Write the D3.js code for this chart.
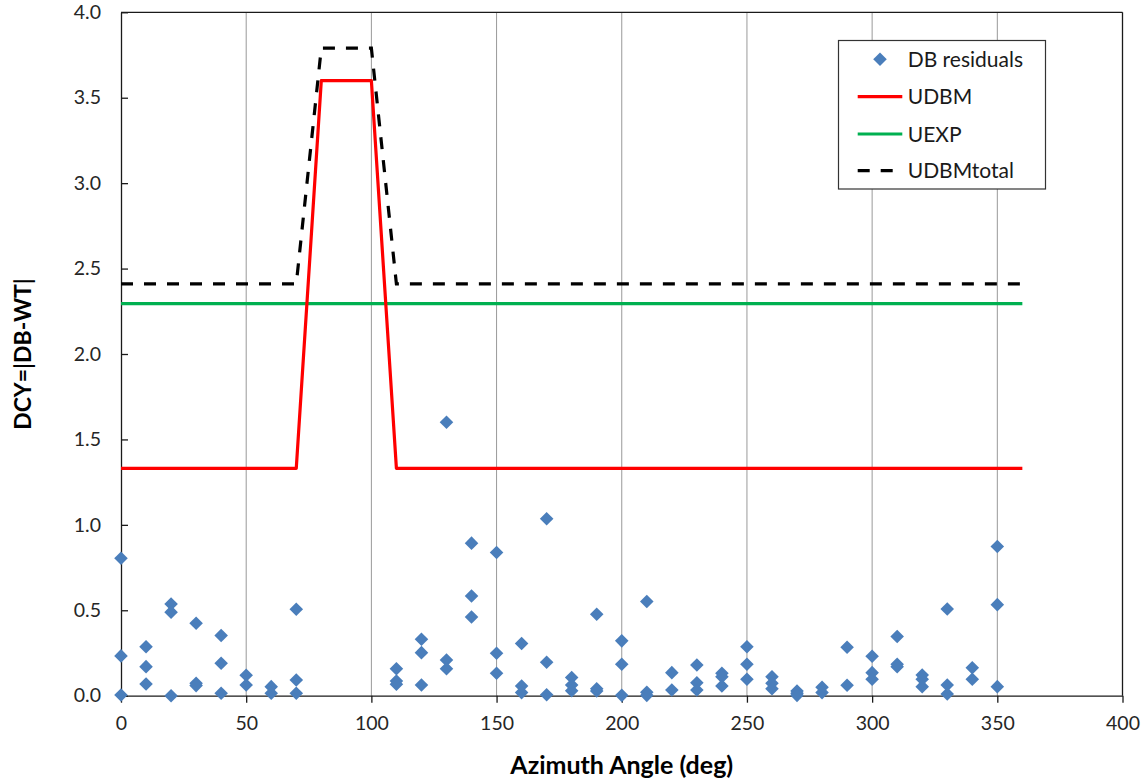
<!DOCTYPE html>
<html>
<head>
<meta charset="utf-8">
<script src="https://cdn.jsdelivr.net/npm/d3@7"></script>
<style>
  html, body { margin: 0; padding: 0; background: #fff; }
  svg { display: block; font-family: Lato, "Open Sans", sans-serif; }
</style>
</head>
<body>
<svg id="chart" width="1146" height="784"></svg>
<script>
// ---- Data ----
const xTicks = [0, 50, 100, 150, 200, 250, 300, 350, 400];
const yTicks = [0, 0.5, 1.0, 1.5, 2.0, 2.5, 3.0, 3.5, 4.0];

// DB residuals (azimuth, value)
const resAz = [
  0, 0, 0,
  10, 10, 10,
  20, 20, 20,
  30, 30, 30,
  40, 40, 40,
  50, 50,
  60, 60,
  70, 70, 70,
  110, 110, 110,
  120, 120, 120,
  130, 130, 130,
  140, 140, 140,
  150, 150, 150,
  160, 160, 160,
  170, 170, 170,
  180, 180, 180,
  190, 190, 190,
  200, 200, 200,
  210, 210, 210,
  220, 220,
  230, 230, 230,
  240, 240, 240,
  250, 250, 250,
  260, 260, 260,
  270, 270, 270,
  280, 280,
  290, 290,
  300, 300, 300,
  310, 310, 310,
  320, 320, 320,
  330, 330, 330,
  340, 340,
  350, 350, 350
];
const resVal = [
  0.805, 0.233, 0.004,
  0.287, 0.170, 0.069,
  0.537, 0.489, 0.000,
  0.424, 0.073, 0.059,
  0.352, 0.190, 0.014,
  0.120, 0.063,
  0.053, 0.014,
  0.506, 0.092, 0.014,
  0.158, 0.086, 0.067,
  0.330, 0.252, 0.063,
  1.600, 0.209, 0.158,
  0.893, 0.584, 0.461,
  0.838, 0.248, 0.131,
  0.305, 0.057, 0.018,
  1.036, 0.196, 0.006,
  0.106, 0.063, 0.029,
  0.477, 0.041, 0.028,
  0.321, 0.184, 0.002,
  0.551, 0.020, 0.002,
  0.135, 0.033,
  0.180, 0.076, 0.033,
  0.131, 0.111, 0.057,
  0.287, 0.184, 0.096,
  0.111, 0.073, 0.041,
  0.028, 0.014, 0.002,
  0.049, 0.018,
  0.284, 0.061,
  0.231, 0.135, 0.096,
  0.346, 0.184, 0.170,
  0.121, 0.096, 0.053,
  0.508, 0.063, 0.010,
  0.164, 0.096,
  0.873, 0.533, 0.053
];

const udbmAz  = [0, 70, 80, 100, 110, 360];
const udbmVal = [1.33, 1.33, 3.60, 3.60, 1.33, 1.33];
const uexpAz  = [0, 360];
const uexpVal = [2.295, 2.295];
const totAz   = [0, 70, 80, 100, 110, 360];
const totVal  = [2.41, 2.41, 3.79, 3.79, 2.41, 2.41];

const legendNames = ["DB residuals", "UDBM", "UEXP", "UDBMtotal"];

// ---- Layout ----
const svg = d3.select("#chart");
const L = 121, T = 12.3, R = 1122.5, B = 695.7;
const x = d3.scaleLinear().domain([0, 400]).range([L, R]);
const y = d3.scaleLinear().domain([0, 4]).range([B, T]);

const axisColor = "#1a1a1a";
const tickTextColor = "#262626";

// vertical gridlines
svg.append("g").selectAll("line")
  .data(xTicks.filter(d => d > 0 && d < 400))
  .join("line")
  .attr("x1", d => x(d)).attr("x2", d => x(d))
  .attr("y1", T).attr("y2", B)
  .attr("stroke", "#999").attr("stroke-width", 1);

// plot frame (top & right)
svg.append("line").attr("x1", L).attr("x2", R).attr("y1", T).attr("y2", T)
  .attr("stroke", axisColor).attr("stroke-width", 1.3);
svg.append("line").attr("x1", R).attr("x2", R).attr("y1", T).attr("y2", B)
  .attr("stroke", axisColor).attr("stroke-width", 1.3);

// x axis
const xAxis = d3.axisBottom(x).tickValues(xTicks).tickFormat(d3.format("d"))
  .tickSize(7).tickSizeOuter(0).tickPadding(13);
const gx = svg.append("g").attr("transform", `translate(0,${B})`).call(xAxis);
gx.select(".domain").attr("stroke", axisColor).attr("stroke-width", 1.3);
gx.selectAll(".tick line").attr("stroke", axisColor).attr("stroke-width", 1.3);
gx.selectAll(".tick text").attr("font-size", 19.5).attr("fill", tickTextColor)
  .attr("font-family", "Lato, sans-serif");

// y axis (ticks inside)
const yAxis = d3.axisLeft(y).tickValues(yTicks).tickFormat(d3.format(".1f"))
  .tickSize(-7).tickSizeOuter(0).tickPadding(20);
const gy = svg.append("g").attr("transform", `translate(${L},0)`).call(yAxis);
gy.select(".domain").attr("stroke", axisColor).attr("stroke-width", 1.3);
gy.selectAll(".tick line").attr("stroke", axisColor).attr("stroke-width", 1.3);
gy.selectAll(".tick text").attr("font-size", 19.5).attr("fill", tickTextColor)
  .attr("font-family", "Lato, sans-serif");

// axis titles
svg.append("text")
  .attr("x", (L + R) / 2).attr("y", 774)
  .attr("text-anchor", "middle")
  .attr("font-weight", "bold").attr("font-size", 25)
  .attr("fill", "#000")
  .text("Azimuth Angle (deg)");
svg.append("text")
  .attr("transform", `translate(31,${(T + B) / 2}) rotate(-90)`)
  .attr("text-anchor", "middle")
  .attr("font-weight", "bold").attr("font-size", 23)
  .attr("fill", "#000")
  .text("DCY=|DB-WT|");

// lines
const line = d3.line().x(d => x(d[0])).y(d => y(d[1]));
svg.append("path")
  .datum(uexpAz.map((a, i) => [a, uexpVal[i]]))
  .attr("d", line).attr("fill", "none")
  .attr("stroke", "#00B050").attr("stroke-width", 3.2);
svg.append("path")
  .datum(udbmAz.map((a, i) => [a, udbmVal[i]]))
  .attr("d", line).attr("fill", "none")
  .attr("stroke", "#FF0000").attr("stroke-width", 3.2)
  .attr("stroke-linejoin", "round");
svg.append("path")
  .datum(totAz.map((a, i) => [a, totVal[i]]))
  .attr("d", line).attr("fill", "none")
  .attr("stroke", "#000").attr("stroke-width", 3.2)
  .attr("stroke-dasharray", "12,11");

// diamonds
const diamond = d3.symbol().type(d3.symbolSquare).size(92);
svg.append("g").selectAll("path")
  .data(resAz.map((a, i) => [a, resVal[i]]))
  .join("path")
  .attr("d", diamond)
  .attr("transform", d => `translate(${x(d[0])},${y(d[1])}) rotate(45)`)
  .attr("fill", "#4A7EBB");

// legend
const lg = svg.append("g");
lg.append("rect").attr("x", 838.5).attr("y", 40.5).attr("width", 207).attr("height", 148.5)
  .attr("fill", "#fff").attr("stroke", "#333").attr("stroke-width", 1.2);
const rowY = [59.3, 96.7, 134, 170.7];
const sx1 = 857.7, sx2 = 902.3, tx = 907.7;
lg.append("path").attr("d", diamond)
  .attr("transform", `translate(${(sx1 + sx2) / 2},${rowY[0]}) rotate(45)`)
  .attr("fill", "#4A7EBB");
lg.append("line").attr("x1", sx1).attr("x2", sx2).attr("y1", rowY[1]).attr("y2", rowY[1])
  .attr("stroke", "#FF0000").attr("stroke-width", 3.2);
lg.append("line").attr("x1", sx1).attr("x2", sx2).attr("y1", rowY[2]).attr("y2", rowY[2])
  .attr("stroke", "#00B050").attr("stroke-width", 3.2);
lg.append("line").attr("x1", sx1).attr("x2", sx2).attr("y1", rowY[3]).attr("y2", rowY[3])
  .attr("stroke", "#000").attr("stroke-width", 3.2).attr("stroke-dasharray", "12,11");
lg.selectAll("text.lab").data(legendNames).join("text")
  .attr("class", "lab")
  .attr("x", tx).attr("y", (d, i) => rowY[i])
  .attr("dy", "0.36em")
  .attr("font-size", 21).attr("fill", "#1a1a1a")
  .text(d => d);
</script>
</body>
</html>
